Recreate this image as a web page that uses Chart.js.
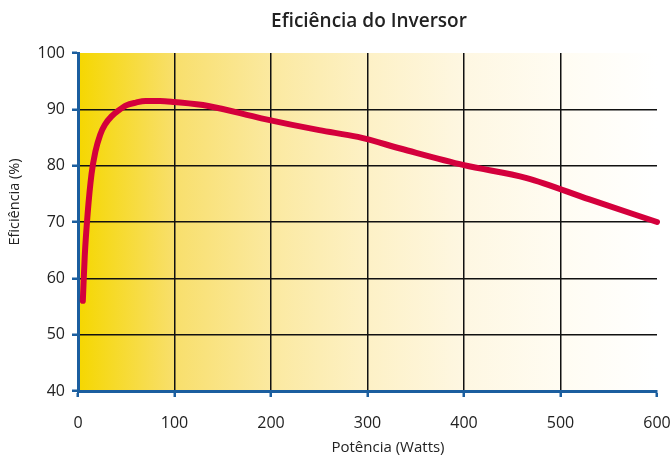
<!DOCTYPE html>
<html>
<head>
<meta charset="utf-8">
<script src="https://cdn.jsdelivr.net/npm/chart.js@4/dist/chart.umd.min.js"></script>
<style>
  html, body { margin: 0; padding: 0; background: #ffffff; }
  #wrap { width: 671px; height: 457px; }
</style>
</head>
<body>
<div id="wrap"><canvas id="c" width="671" height="457"></canvas></div>
<script>
const chartTitle = "Eficiência do Inversor";
const xTitle = "Potência (Watts)";
const yTitle = "Eficiência (%)";
const powerWatts = [5, 7, 10, 14, 18, 23, 28, 35, 42, 50, 60, 70, 85, 100, 135, 190, 250, 290, 335, 400, 465, 530, 600];
const efficiency = [56, 64, 71.5, 78.5, 82.5, 85.5, 87.3, 88.8, 89.8, 90.7, 91.2, 91.5, 91.5, 91.3, 90.6, 88.4, 86.3, 85.1, 83, 80.1, 77.8, 74, 70];
const xTicks = [0, 100, 200, 300, 400, 500, 600];
const yTicks = [40, 50, 60, 70, 80, 90, 100];

const points = powerWatts.map((x, i) => ({ x: x, y: efficiency[i] }));

const AXIS_BLUE = '#1b5e9f';
const FONT = "'Open Sans', 'Noto Sans', sans-serif";

const bgPlugin = {
  id: 'bg',
  beforeDraw(chart) {
    const { ctx, chartArea: a } = chart;
    const g = ctx.createLinearGradient(a.left, 0, a.right, 0);
    g.addColorStop(0, '#f5d700');
    g.addColorStop(0.167, '#f8df6c');
    g.addColorStop(0.333, '#fbe9a0');
    g.addColorStop(0.5, '#fdf1c6');
    g.addColorStop(0.667, '#fef7e2');
    g.addColorStop(0.833, '#fffcf2');
    g.addColorStop(1, '#ffffff');
    ctx.save();
    ctx.fillStyle = g;
    ctx.fillRect(a.left, a.top, a.right - a.left, a.bottom - a.top);
    ctx.restore();
  },
  afterDraw(chart) {
    const { ctx } = chart;
    ctx.save();
    ctx.fillStyle = '#222222';
    ctx.textAlign = 'center';
    ctx.textBaseline = 'middle';
    ctx.font = "600 19px " + FONT;
    ctx.fillText(chartTitle, 369, 22);
    ctx.font = "15px " + FONT;
    ctx.fillText(xTitle, 388, 448);
    ctx.translate(15, 202);
    ctx.rotate(-Math.PI / 2);
    ctx.font = "14.5px " + FONT;
    ctx.fillText(yTitle, 0, 0);
    ctx.restore();
  }
};

new Chart(document.getElementById('c'), {
  type: 'line',
  data: {
    datasets: [{
      data: points,
      borderColor: '#d4003c',
      borderWidth: 6,
      borderCapStyle: 'round',
      borderJoinStyle: 'round',
      pointRadius: 0,
      pointHoverRadius: 0,
      fill: false,
      cubicInterpolationMode: 'monotone',
      clip: false
    }]
  },
  options: {
    responsive: false,
    animation: false,
    devicePixelRatio: 1,
    events: [],
    layout: { padding: { top: 53, right: 14, left: 0, bottom: 0 } },
    plugins: {
      legend: { display: false },
      tooltip: { enabled: false },
      title: { display: false }
    },
    scales: {
      x: {
        type: 'linear',
        min: 0,
        max: 600,
        afterBuildTicks(scale) { scale.ticks = xTicks.map(v => ({ value: v })); },
        afterFit(scale) { scale.height = 66; scale.paddingLeft = 0; scale.paddingRight = 0; },
        border: { display: true, color: AXIS_BLUE, width: 3 },
        grid: {
          color: ctx => (ctx.tick && ctx.tick.value > 0 && ctx.tick.value < 600) ? '#111111' : 'rgba(0,0,0,0)',
          lineWidth: 1.5,
          tickColor: AXIS_BLUE,
          tickWidth: 2.5,
          tickLength: 6,
          drawTicks: true
        },
        ticks: {
          color: '#222222',
          font: { family: FONT, size: 16 },
          padding: 17,
          maxRotation: 0
        }
      },
      y: {
        type: 'linear',
        min: 40,
        max: 100,
        afterBuildTicks(scale) { scale.ticks = yTicks.map(v => ({ value: v })); },
        afterFit(scale) { scale.width = 78; scale.paddingTop = 0; scale.paddingBottom = 0; },
        border: { display: true, color: AXIS_BLUE, width: 3 },
        grid: {
          color: ctx => (ctx.tick && ctx.tick.value > 40 && ctx.tick.value < 100) ? '#111111' : 'rgba(0,0,0,0)',
          lineWidth: 1.5,
          tickColor: AXIS_BLUE,
          tickWidth: 2.5,
          tickLength: 6,
          drawTicks: true
        },
        ticks: {
          color: '#222222',
          font: { family: FONT, size: 16 },
          padding: 7
        }
      }
    }
  },
  plugins: [bgPlugin]
});
</script>
</body>
</html>
